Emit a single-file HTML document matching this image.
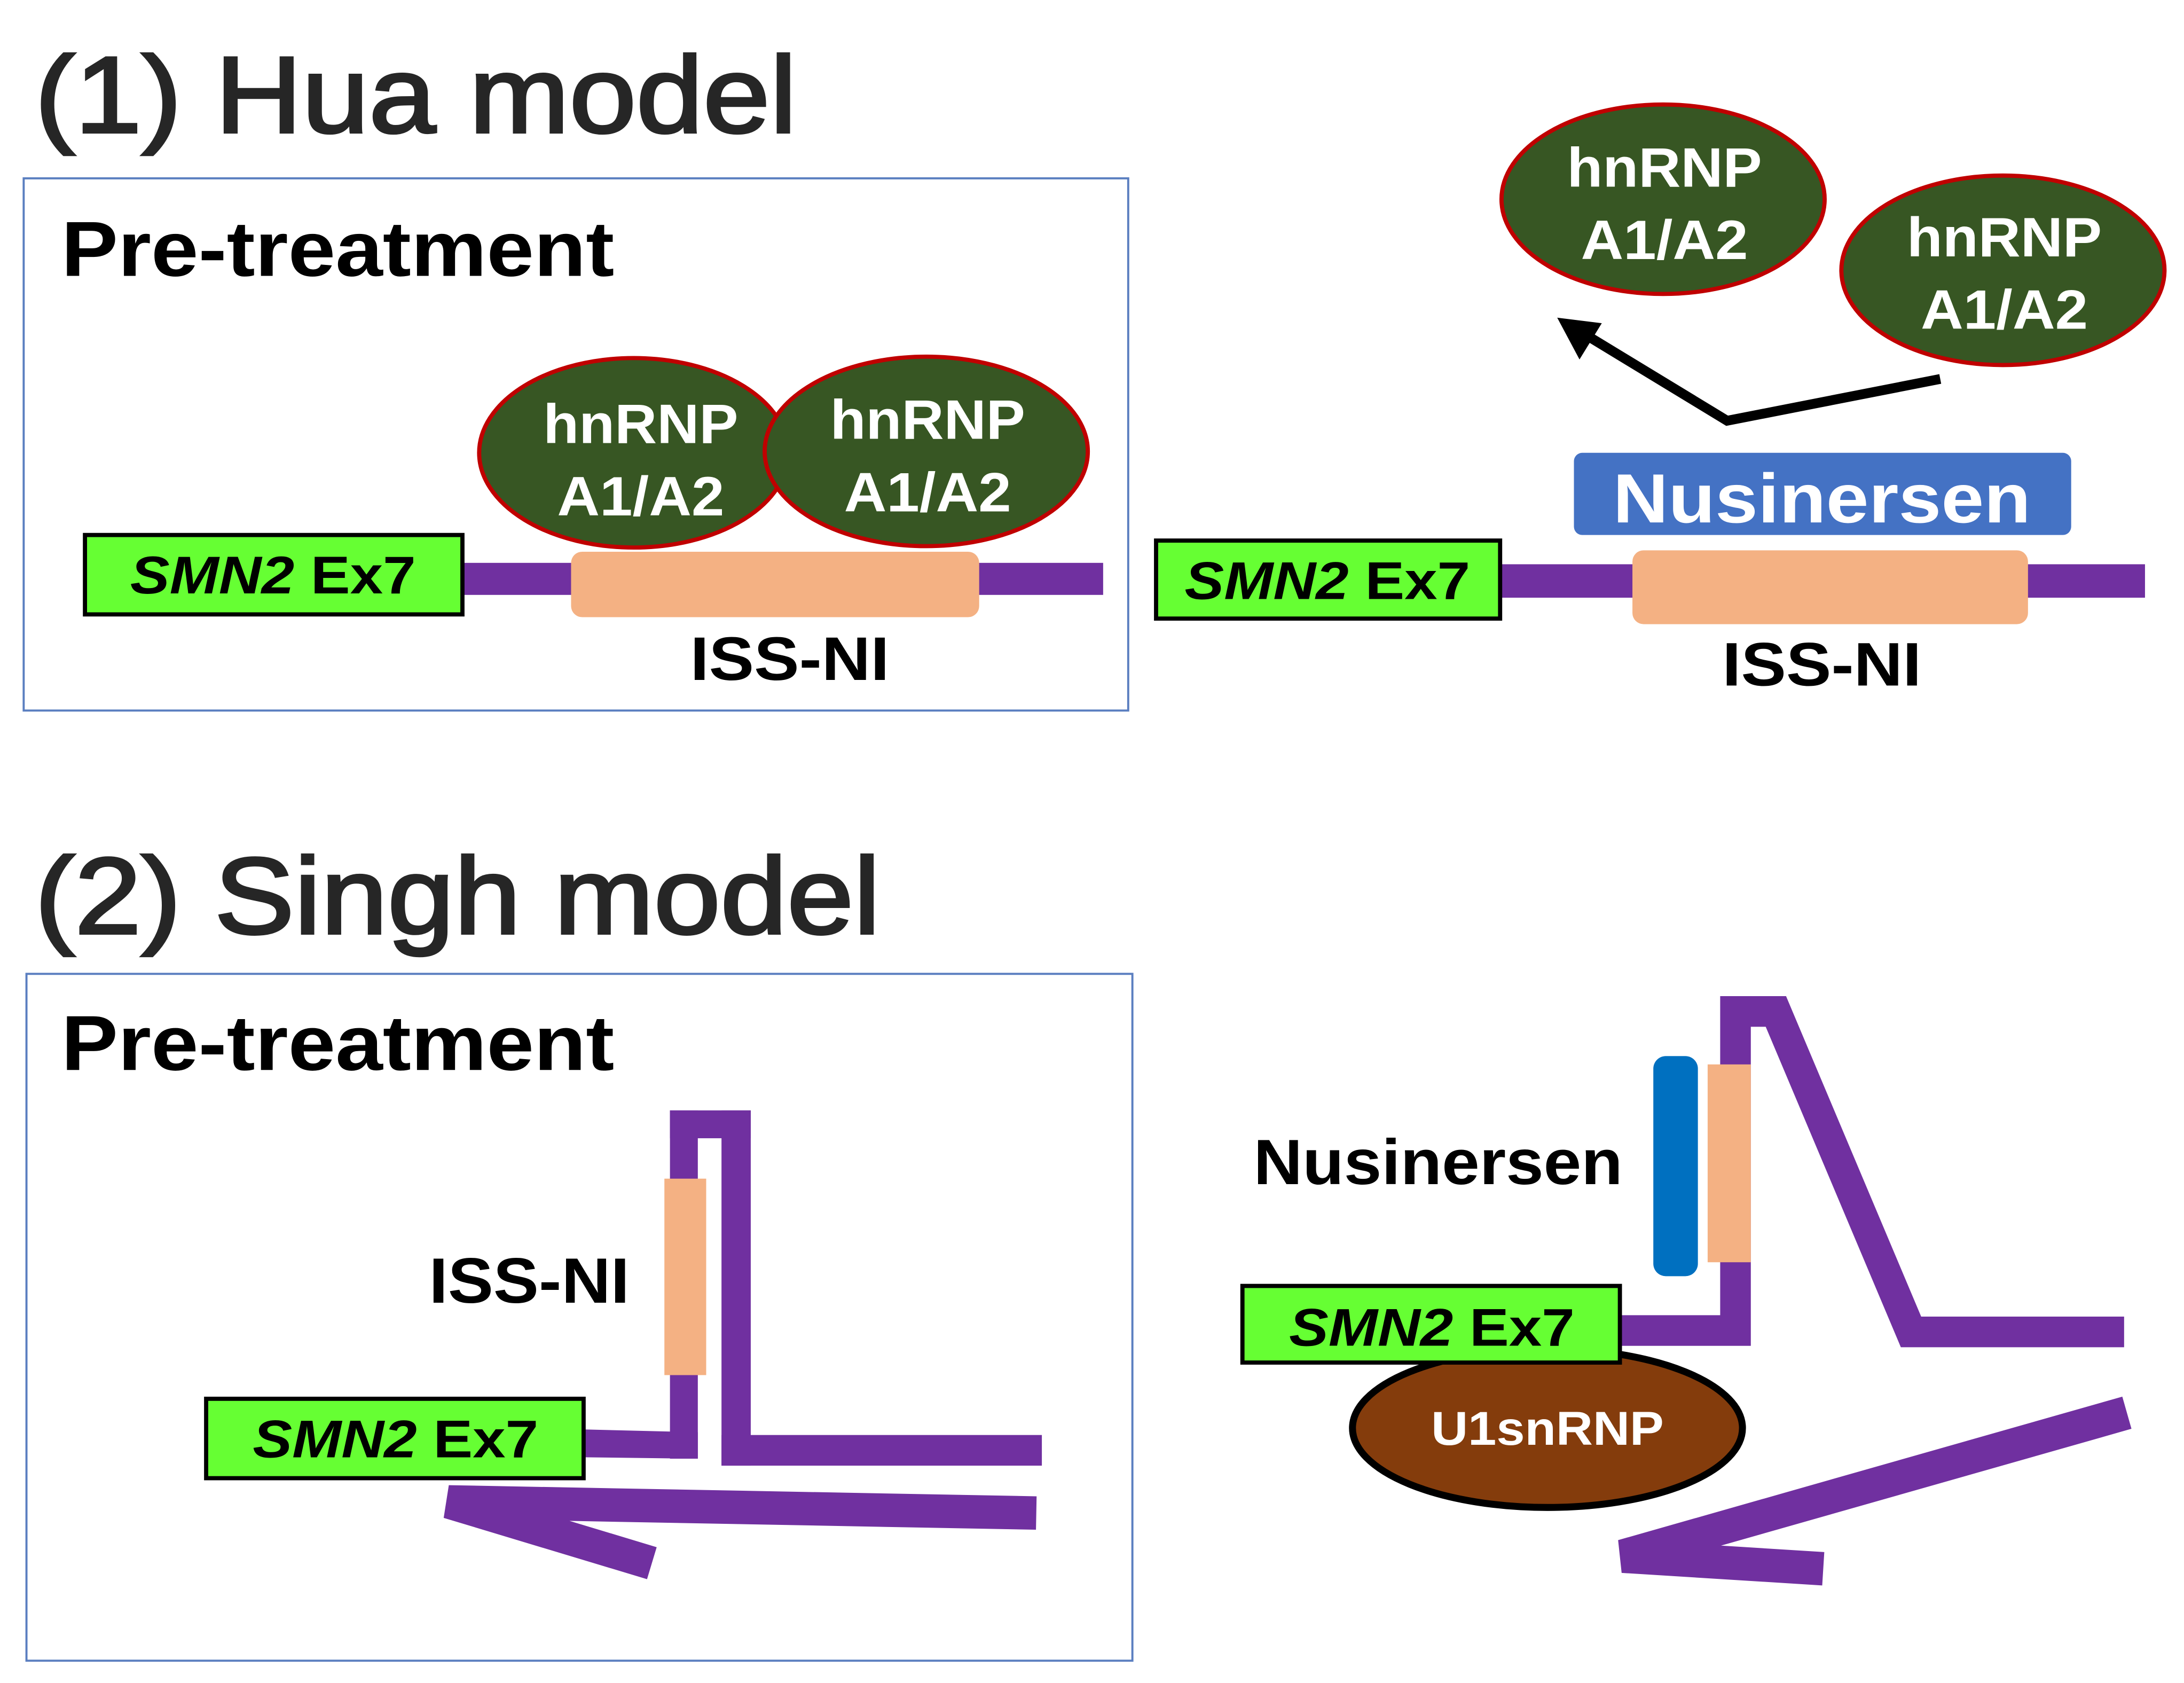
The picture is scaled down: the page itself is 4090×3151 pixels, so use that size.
<!DOCTYPE html>
<html><head><meta charset="utf-8"><style>html,body{margin:0;padding:0;background:#fff}svg{display:block}</style></head>
<body>
<svg width="4090" height="3151" viewBox="0 0 1568 1208" xmlns="http://www.w3.org/2000/svg" font-family="Liberation Sans, Arial, sans-serif" font-weight="bold">
<rect width="1568" height="1208" fill="#fff"/>
<!-- Titles -->
<text x="25" y="95" font-size="78" font-weight="normal" fill="#262626" stroke="#262626" stroke-width="1.8" textLength="547" lengthAdjust="spacingAndGlyphs">(1) Hua model</text>
<text x="25" y="670" font-size="78" font-weight="normal" fill="#262626" stroke="#262626" stroke-width="1.8" textLength="607" lengthAdjust="spacingAndGlyphs">(2) Singh model</text>

<!-- Panel 1 left -->
<rect x="17" y="128" width="793" height="382" fill="none" stroke="#5a7ec0" stroke-width="1.5"/>
<text x="44" y="198" font-size="56" fill="#000" textLength="397" lengthAdjust="spacingAndGlyphs">Pre-treatment</text>
<rect x="332" y="404" width="460" height="23" fill="#7030a0"/>
<rect x="410" y="396" width="293" height="47" rx="8" fill="#f4b183"/>
<ellipse cx="455" cy="325" rx="111" ry="68" fill="#375623" stroke="#c00000" stroke-width="3"/>
<ellipse cx="665" cy="324" rx="116" ry="68" fill="#375623" stroke="#c00000" stroke-width="3"/>
<g fill="#fff" font-size="40" text-anchor="middle">
<text x="460" y="318" textLength="140" lengthAdjust="spacingAndGlyphs">hnRNP</text>
<text x="460" y="370" textLength="120" lengthAdjust="spacingAndGlyphs">A1/A2</text>
<text x="666" y="315" textLength="140" lengthAdjust="spacingAndGlyphs">hnRNP</text>
<text x="666" y="367" textLength="120" lengthAdjust="spacingAndGlyphs">A1/A2</text>
</g>
<rect x="61" y="384" width="271" height="57" fill="#66ff33" stroke="#000" stroke-width="3"/>
<text x="196" y="426" font-size="38" text-anchor="middle" textLength="205" lengthAdjust="spacingAndGlyphs"><tspan font-style="italic">SMN2</tspan> Ex7</text>
<text x="567" y="488" font-size="44" text-anchor="middle" textLength="143" lengthAdjust="spacingAndGlyphs">ISS-NI</text>

<!-- Panel 1 right -->
<rect x="1077" y="405" width="463" height="24" fill="#7030a0"/>
<rect x="1172" y="395" width="284" height="53" rx="8" fill="#f4b183"/>
<rect x="1130" y="325" width="357" height="59" rx="6" fill="#4472c4"/>
<text x="1308" y="375" font-size="50" fill="#fff" text-anchor="middle" textLength="300" lengthAdjust="spacingAndGlyphs">Nusinersen</text>
<rect x="830" y="388" width="247" height="56" fill="#66ff33" stroke="#000" stroke-width="3"/>
<text x="953" y="430" font-size="38" text-anchor="middle" textLength="205" lengthAdjust="spacingAndGlyphs"><tspan font-style="italic">SMN2</tspan> Ex7</text>
<text x="1308" y="492" font-size="44" text-anchor="middle" textLength="143" lengthAdjust="spacingAndGlyphs">ISS-NI</text>
<ellipse cx="1194" cy="143" rx="116" ry="68" fill="#375623" stroke="#c00000" stroke-width="3"/>
<ellipse cx="1438" cy="194" rx="116" ry="68" fill="#375623" stroke="#c00000" stroke-width="3"/>
<g fill="#fff" font-size="40" text-anchor="middle">
<text x="1195" y="134" textLength="140" lengthAdjust="spacingAndGlyphs">hnRNP</text>
<text x="1195" y="186" textLength="120" lengthAdjust="spacingAndGlyphs">A1/A2</text>
<text x="1439" y="184" textLength="140" lengthAdjust="spacingAndGlyphs">hnRNP</text>
<text x="1439" y="236" textLength="120" lengthAdjust="spacingAndGlyphs">A1/A2</text>
</g>
<polyline points="1393,272 1240,302 1138,240" fill="none" stroke="#000" stroke-width="7"/>
<polygon points="1118,228 1150,232 1134,258" fill="#000"/>

<!-- Panel 2 left -->
<rect x="19" y="699" width="794" height="493" fill="none" stroke="#5a7ec0" stroke-width="1.5"/>
<text x="44" y="768" font-size="56" fill="#000" textLength="397" lengthAdjust="spacingAndGlyphs">Pre-treatment</text>
<g fill="#7030a0">
<rect x="481" y="797" width="58" height="20"/>
<rect x="481" y="797" width="20" height="250"/>
<rect x="518" y="797" width="21" height="255"/>
<rect x="518" y="1030" width="230" height="22"/>
<polygon points="419,1026 501,1028 501,1047 419,1046"/>
</g>
<rect x="477" y="846" width="30" height="141" fill="#f4b183"/>
<polyline points="744,1086 322,1078 468,1122" fill="none" stroke="#7030a0" stroke-width="24"/>
<rect x="148" y="1004" width="271" height="57" fill="#66ff33" stroke="#000" stroke-width="3"/>
<text x="284" y="1046" font-size="38" text-anchor="middle" textLength="205" lengthAdjust="spacingAndGlyphs"><tspan font-style="italic">SMN2</tspan> Ex7</text>
<text x="452" y="935" font-size="46" text-anchor="end" textLength="144" lengthAdjust="spacingAndGlyphs">ISS-NI</text>

<!-- Panel 2 right -->
<polyline points="1163,955 1246,955 1246,726 1275,726 1372,956 1525,956" fill="none" stroke="#7030a0" stroke-width="22"/>
<rect x="1187" y="758" width="32" height="158" rx="9" fill="#0070c0"/>
<rect x="1226" y="764" width="31" height="142" fill="#f4b183"/>
<text x="900" y="850" font-size="46" text-anchor="start" textLength="265" lengthAdjust="spacingAndGlyphs">Nusinersen</text>
<ellipse cx="1111" cy="1025" rx="140" ry="57" fill="#843c0c" stroke="#000" stroke-width="5"/>
<text x="1111" y="1037" font-size="34" fill="#fff" text-anchor="middle" textLength="167" lengthAdjust="spacingAndGlyphs">U1snRNP</text>
<rect x="892" y="923" width="271" height="55" fill="#66ff33" stroke="#000" stroke-width="3"/>
<text x="1028" y="966" font-size="38" text-anchor="middle" textLength="205" lengthAdjust="spacingAndGlyphs"><tspan font-style="italic">SMN2</tspan> Ex7</text>
<polyline points="1527,1014 1165,1117 1309,1126" fill="none" stroke="#7030a0" stroke-width="24"/>
</svg>
</body></html>
